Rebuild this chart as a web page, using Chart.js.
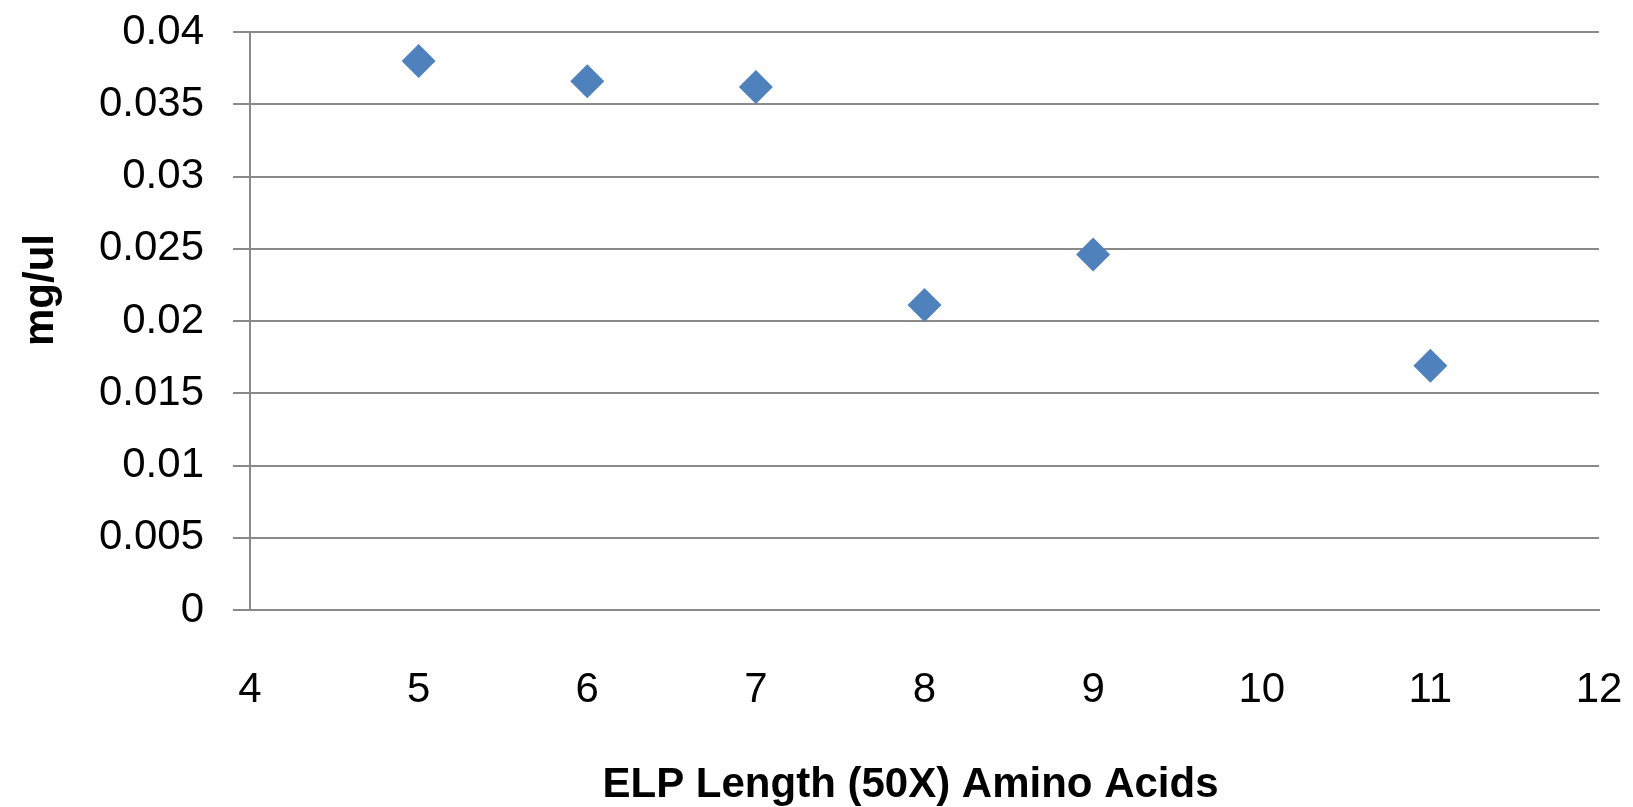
<!DOCTYPE html>
<html>
<head>
<meta charset="utf-8">
<script src="https://cdn.jsdelivr.net/npm/chart.js@4"></script>
<style>
  html, body { margin: 0; padding: 0; background: #fff; }
  #wrap { width: 1633px; height: 807px; }
</style>
</head>
<body>
<div id="wrap"><canvas id="chart" width="1633" height="807"></canvas></div>
<script>
// ELP length (x 50 amino acids) vs concentration
const elpLength = [5, 6, 7, 8, 9, 11];
const concentration = [0.038, 0.0366, 0.0362, 0.0211, 0.0246, 0.0169];
const xTitle = 'ELP Length (50X) Amino Acids';
const yTitle = 'mg/ul';

const gridColor = '#898989';
const fontFamily = '"Liberation Sans", Arial, sans-serif';

// axis titles drawn by hand so they sit where Excel put them
const axisTitles = {
    id: 'axisTitles',
    afterDraw(chart) {
        const ctx = chart.ctx;
        const area = chart.chartArea;
        ctx.save();
        ctx.fillStyle = '#000';
        ctx.font = 'bold 42px ' + fontFamily;
        ctx.textAlign = 'center';
        ctx.textBaseline = 'alphabetic';
        ctx.fillText(xTitle, (area.left + area.right) / 2 - 14, chart.height - 10);
        ctx.translate(53, (area.top + area.bottom) / 2 - 31);
        ctx.rotate(-Math.PI / 2);
        ctx.fillText(yTitle, 0, 0);
        ctx.restore();
    }
};

// drop the extra room chart.js keeps for the end labels
function noEdgePadding(scale) {
    scale.paddingLeft = 0;
    scale.paddingRight = 0;
    scale.paddingTop = 0;
    scale.paddingBottom = 0;
}

new Chart(document.getElementById('chart'), {
    type: 'scatter',
    data: {
        datasets: [{
            label: 'mg/ul',
            data: elpLength.map((x, i) => ({ x: x, y: concentration[i] })),
            pointStyle: 'rectRot',
            pointRadius: 17,
            pointHoverRadius: 17,
            backgroundColor: '#4F81BD',
            borderWidth: 0
        }]
    },
    options: {
        responsive: false,
        animation: false,
        events: [],
        layout: {
            padding: { left: 0, top: 32, right: 34, bottom: 0 }
        },
        plugins: {
            legend: { display: false },
            tooltip: { enabled: false }
        },
        scales: {
            x: {
                type: 'linear',
                min: 4,
                max: 12,
                ticks: {
                    stepSize: 1,
                    padding: 55,
                    color: '#000',
                    font: { family: fontFamily, size: 42 }
                },
                grid: { display: false, drawTicks: false },
                border: { display: true, color: gridColor, width: 2 },
                afterFit(scale) { scale.height = 197; noEdgePadding(scale); }
            },
            y: {
                min: 0,
                max: 0.04,
                ticks: {
                    stepSize: 0.005,
                    padding: 29,
                    color: '#000',
                    font: { family: fontFamily, size: 42 },
                    callback: v => String(+v.toFixed(3))
                },
                grid: { color: gridColor, lineWidth: 2, tickLength: 17 },
                border: { display: true, color: gridColor, width: 2 },
                afterFit(scale) { scale.width = 250; noEdgePadding(scale); }
            }
        }
    },
    plugins: [axisTitles]
});
</script>
</body>
</html>
